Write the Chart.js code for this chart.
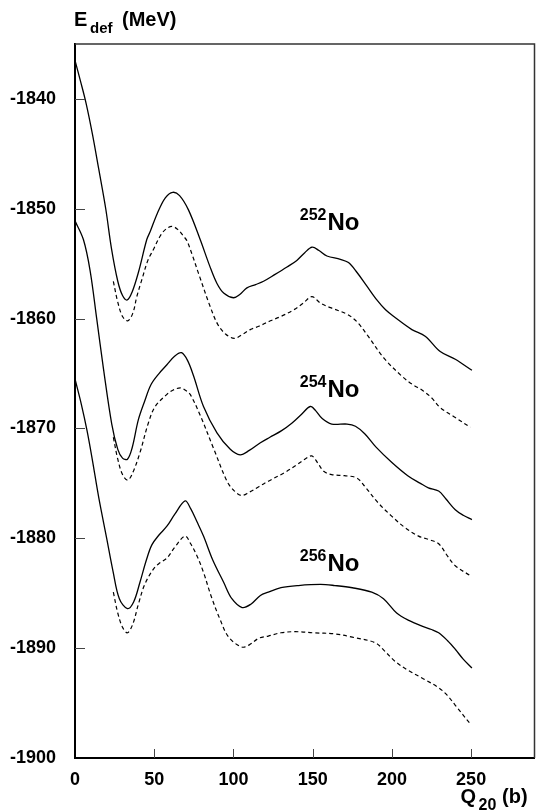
<!DOCTYPE html>
<html><head><meta charset="utf-8">
<script src="https://cdn.jsdelivr.net/npm/chart.js@4"></script>
<style>html,body{margin:0;padding:0;background:#fff}#wrap{width:538px;height:812px;position:relative}</style>
</head><body><div id="wrap"><canvas id="c"></canvas></div>
<script>
// Tick labels
const xTicks = [0, 50, 100, 150, 200, 250];
const yTicks = [-1900, -1890, -1880, -1870, -1860, -1850, -1840];

// Series: [Q20 (b), Edef (MeV)]
const no252Solid = [[0,-1836.5],[3.5,-1838.4],[7,-1840.4],[11,-1843.2],[15,-1846.4],[19.4,-1850],[23,-1853.6],[27,-1856.6],[30,-1857.9],[33,-1858.3],[36,-1857.6],[40,-1855.8],[45.3,-1852.8],[47.4,-1852.1],[52,-1850.4],[57,-1849],[61.7,-1848.5],[66,-1848.8],[71.6,-1850.1],[79,-1852.8],[85,-1855.2],[89.6,-1856.8],[94,-1857.7],[100,-1858.1],[104,-1857.8],[108.5,-1857.2],[114,-1856.9],[119,-1856.6],[126,-1856],[133.8,-1855.3],[140,-1854.7],[145,-1854],[149.6,-1853.5],[154,-1853.8],[159,-1854.3],[167.5,-1854.6],[172.6,-1854.9],[178,-1855.8],[184,-1857],[190.5,-1858.3],[196,-1859.2],[202,-1859.9],[212.6,-1861],[221,-1861.6],[230.5,-1863],[240,-1863.7],[250.5,-1864.7]];
const no252Dashed = [[24.2,-1856.6],[27,-1858.5],[30,-1859.8],[33.3,-1860.2],[36.5,-1859.5],[39,-1858],[42.1,-1856.5],[46,-1854.7],[49.5,-1853.7],[53.7,-1852.5],[57,-1851.9],[61.1,-1851.6],[65,-1851.9],[68.5,-1852.5],[70.6,-1852.9],[74,-1854.2],[78,-1855.9],[85.3,-1858.9],[90,-1860.5],[95,-1861.4],[100.5,-1861.8],[105,-1861.5],[110.6,-1861],[116,-1860.7],[123.3,-1860.2],[130,-1859.8],[138,-1859.2],[144,-1858.6],[149.5,-1858],[155,-1858.6],[161.2,-1859],[171.7,-1859.6],[178,-1860.3],[185,-1861.6],[195,-1863.6],[206,-1865.2],[213,-1866],[219,-1866.5],[225,-1867.2],[230.5,-1868.1],[240,-1869],[249.5,-1869.9]];
const no254Solid = [[0,-1851.1],[5.3,-1852.8],[9.5,-1855.6],[13.7,-1860],[18,-1864.6],[23.2,-1869.6],[27,-1871.9],[30,-1872.7],[33.1,-1872.8],[36,-1871.8],[40,-1869.2],[44,-1867.5],[48,-1866],[53,-1865],[58,-1864.2],[63,-1863.4],[67.2,-1863.1],[71,-1863.8],[74.8,-1865.2],[81.1,-1868],[89.6,-1870.4],[98,-1871.9],[104.2,-1872.4],[110,-1872],[117,-1871.3],[123,-1870.8],[130.4,-1870.2],[137,-1869.5],[143,-1868.7],[148.5,-1868],[152,-1868.4],[156,-1869.1],[162,-1869.6],[171.7,-1869.6],[177,-1869.8],[183,-1870.5],[190,-1871.7],[200,-1873.1],[210,-1874.3],[218,-1875],[223,-1875.4],[229.5,-1875.7],[234,-1876.4],[240,-1877.4],[245,-1877.9],[250.5,-1878.3]];
const no254Dashed = [[24.2,-1870.8],[27,-1872.8],[30,-1874.2],[33.3,-1874.7],[36.5,-1874],[41,-1872.2],[46.3,-1869.5],[50.6,-1868],[58,-1866.9],[62,-1866.5],[66.5,-1866.3],[69.5,-1866.5],[72.7,-1866.9],[79,-1868.8],[87.4,-1871.8],[95.9,-1874.8],[100,-1875.6],[105,-1876.1],[110,-1875.8],[116,-1875.3],[122,-1874.8],[132.5,-1874],[140,-1873.3],[145,-1872.8],[149.4,-1872.5],[153,-1873.1],[157,-1873.9],[162,-1874.2],[170,-1874.3],[177.8,-1874.5],[183,-1875.3],[191.5,-1876.8],[200,-1878],[208,-1879],[216.8,-1879.8],[223,-1880.1],[229.5,-1880.5],[235,-1881.6],[240,-1882.5],[249.5,-1883.4]];
const no256Solid = [[0,-1865.5],[4,-1867.8],[7.6,-1870.2],[11,-1872.9],[15,-1876.3],[20,-1880],[24,-1883],[28,-1885.5],[33.1,-1886.4],[37,-1885.8],[41,-1884],[45,-1882],[48.5,-1880.6],[53,-1879.7],[58,-1878.9],[63,-1877.8],[69.5,-1876.6],[73,-1877.3],[77,-1878.5],[81.1,-1879.8],[87,-1882],[93.8,-1884],[99,-1885.5],[105.5,-1886.3],[111,-1886],[117,-1885.2],[122,-1884.9],[130,-1884.5],[141,-1884.3],[155,-1884.2],[164,-1884.3],[175,-1884.5],[187.3,-1884.9],[194.7,-1885.5],[203,-1886.8],[211,-1887.5],[219,-1888],[225,-1888.3],[229.5,-1888.6],[235,-1889.3],[240,-1890.1],[245,-1891],[250.5,-1891.8]];
const no256Dashed = [[24.2,-1884.9],[27,-1886.8],[30,-1888.1],[33.1,-1888.6],[36.5,-1887.8],[40,-1886],[44,-1884.2],[49.5,-1882.8],[53,-1882.3],[58,-1881.8],[63,-1880.8],[69.5,-1879.8],[73,-1880.5],[77,-1881.6],[81.1,-1883.1],[86,-1885.3],[91.6,-1887.4],[97,-1889],[105.3,-1889.9],[110,-1889.7],[116,-1889.1],[122,-1888.9],[130,-1888.6],[139,-1888.5],[150,-1888.6],[164,-1888.7],[175,-1889],[189.4,-1889.5],[195,-1890.2],[202,-1891.2],[210,-1892],[220,-1892.8],[229.5,-1893.6],[235,-1894.3],[240,-1895.2],[249.5,-1896.9]];

// Nucleus labels: [mass number, Q20 anchor, Edef anchor]
const nucleusLabels = [["252", 142.5, -1851.9], ["254", 142.5, -1867.1], ["256", 142.5, -1883.0]];

const FONT = "'Liberation Sans', Arial, Helvetica, sans-serif";

function ds(arr, dashed) {
  return {
    data: arr.map(p => ({x: p[0], y: p[1]})),
    borderColor: '#000',
    borderWidth: dashed ? 1.2 : 1.3,
    borderDash: dashed ? [4, 3] : [],
    pointRadius: 0,
    fill: false,
    tension: 0.35
  };
}

const decor = {
  id: 'decor',
  afterDraw(chart) {
    const ctx = chart.ctx, a = chart.chartArea;
    const xs = chart.scales.x, ys = chart.scales.y;
    ctx.save();
    // top and right frame
    ctx.strokeStyle = '#333';
    ctx.lineWidth = 1.5;
    ctx.beginPath();
    ctx.moveTo(a.left, a.top); ctx.lineTo(a.right, a.top); ctx.lineTo(a.right, a.bottom);
    ctx.stroke();
    // inward tick marks
    ctx.strokeStyle = '#444';
    ctx.lineWidth = 1;
    ctx.beginPath();
    yTicks.forEach(v => {
      if (v === -1900) return;
      const y = Math.round(ys.getPixelForValue(v)) + 0.5;
      ctx.moveTo(a.left, y); ctx.lineTo(a.left + 10, y);
    });
    xTicks.forEach(v => {
      if (v === 0) return;
      const x = Math.round(xs.getPixelForValue(v)) + 0.5;
      ctx.moveTo(x, a.bottom); ctx.lineTo(x, a.bottom - 9);
    });
    ctx.stroke();
    // axis titles
    ctx.fillStyle = '#000';
    ctx.textAlign = 'left';
    ctx.textBaseline = 'alphabetic';
    ctx.font = 'bold 20px ' + FONT;
    ctx.fillText('E', 74, 26);
    ctx.font = 'bold 15px ' + FONT;
    ctx.fillText('def', 90, 32.5);
    ctx.font = 'bold 20px ' + FONT;
    ctx.fillText('(MeV)', 122, 26);

    ctx.font = 'bold 20px ' + FONT;
    ctx.fillText('Q', 460.5, 803);
    ctx.font = 'bold 16px ' + FONT;
    ctx.fillText('20', 478.5, 810);
    ctx.font = 'bold 20px ' + FONT;
    ctx.fillText('(b)', 502, 803);

    // nucleus labels
    nucleusLabels.forEach(l => {
      const x = xs.getPixelForValue(l[1]);
      const y = ys.getPixelForValue(l[2]);
      ctx.font = 'bold 16px ' + FONT;
      ctx.fillText(l[0], x - 1, y - 10);
      const w = ctx.measureText(l[0]).width;
      ctx.font = 'bold 24px ' + FONT;
      ctx.fillText('No', x + w, y);
    });
    ctx.restore();
  }
};

new Chart(document.getElementById('c'), {
  type: 'line',
  data: {
    datasets: [
      ds(no252Solid, false), ds(no252Dashed, true),
      ds(no254Solid, false), ds(no254Dashed, true),
      ds(no256Solid, false), ds(no256Dashed, true)
    ]
  },
  options: {
    responsive: true,
    maintainAspectRatio: false,
    animation: false,
    events: [],
    layout: {padding: {top: 44, right: 3.5, left: 0, bottom: 0}},
    plugins: {legend: {display: false}, tooltip: {enabled: false}},
    scales: {
      x: {
        type: 'linear', min: 0, max: 290,
        afterBuildTicks: s => { s.ticks = xTicks.map(v => ({value: v})); },
        afterFit: s => { s.height = 54; },
        grid: {display: false},
        border: {display: true, color: '#000', width: 2},
        ticks: {color: '#000', padding: 3, autoSkip: false, maxRotation: 0,
                callback: v => String(v),
                font: {family: FONT, weight: 'bold', size: 18}}
      },
      y: {
        type: 'linear', min: -1900, max: -1835,
        afterBuildTicks: s => { s.ticks = yTicks.map(v => ({value: v})); },
        afterFit: s => { s.width = 75; },
        grid: {display: false},
        border: {display: true, color: '#000', width: 2},
        ticks: {color: '#000', padding: 11, autoSkip: false,
                callback: v => String(v),
                font: {family: FONT, weight: 'bold', size: 18}}
      }
    }
  },
  plugins: [decor]
});
</script>
</body></html>
